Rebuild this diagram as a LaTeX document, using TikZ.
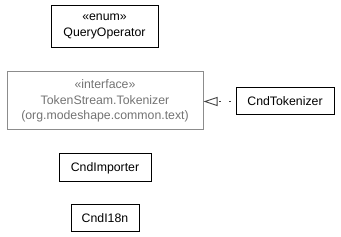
\documentclass[tikz,border=0pt]{standalone}
\usepackage{fontspec}
\setmainfont{Liberation Sans}
\usetikzlibrary{arrows.meta}
\begin{document}
\begin{tikzpicture}[x=1pt,y=-1pt,
  cls/.style={draw=black, line width=1pt, inner sep=0pt, align=center,
    font=\fontsize{12.3}{15.5}\selectfont},
  iface/.style={cls, draw=gray!90, text=gray!90!black},
  realize/.style={draw=black!75, line width=0.9pt, dash pattern=on 2pt off 8pt, dash phase=5pt,
    -{Triangle[open, length=14pt, width=9pt, line width=0.9pt]}}]
\useasboundingbox (0,0) rectangle (341,237);
\node[cls, minimum width=107pt, minimum height=42pt] (qo) at (104.5,26.5) {«enum»\\QueryOperator};
\node[iface, minimum width=196pt, minimum height=58pt] (tok) at (105,101) {«interface»\\TokenStream.Tokenizer\\(org.modeshape.common.text)};
\node[cls, minimum width=98pt, minimum height=27pt] (ct) at (285,101.5) {CndTokenizer};
\node[cls, minimum width=92pt, minimum height=28pt] (ci) at (105,168) {CndImporter};
\node[cls, minimum width=68pt, minimum height=27pt] (cn) at (105,218.5) {CndI18n};
\draw[realize] (ct.west) -- (tok.east |- ct.west);
\end{tikzpicture}
\end{document}
